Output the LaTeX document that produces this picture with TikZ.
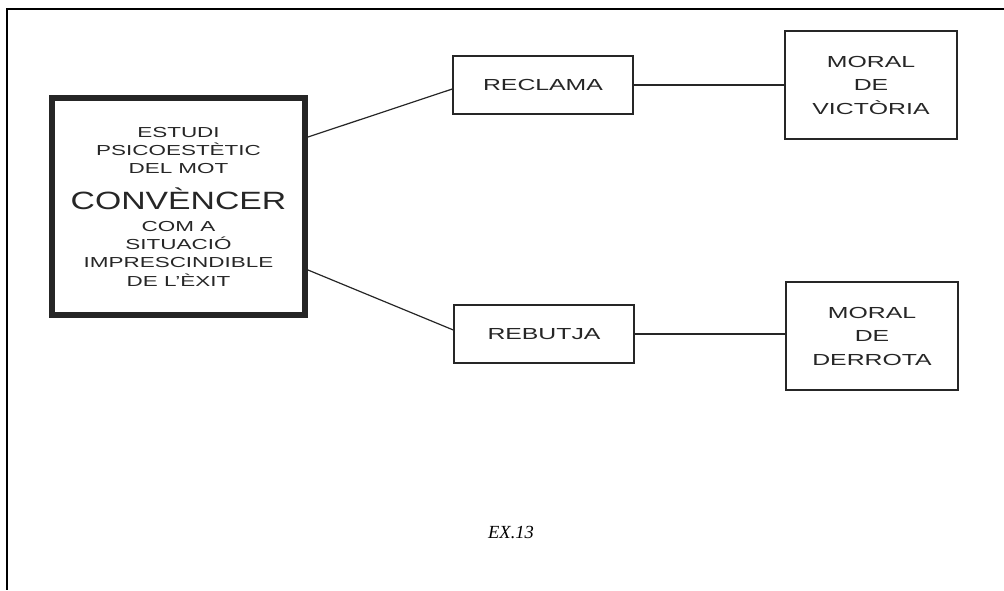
\documentclass[tikz,border=0pt]{standalone}
\usepackage{fontspec}
\setmainfont{Liberation Serif}
\newfontfamily\widefont[FakeStretch=1.55]{Liberation Sans}
\newfontfamily\bigwidefont[FakeStretch=1.35]{Liberation Sans}
\begin{document}
\begin{tikzpicture}[x=1pt,y=-1pt,
  box/.style={draw=black!85, line width=1.3pt, inner sep=0pt, align=center, text=black!85,
    font=\widefont\fontsize{16}{23.5}\selectfont},
  bigbox/.style={draw=black!85, line width=6pt, minimum width=253pt, minimum height=217pt,
    inner sep=0pt, align=center, text=black!85, font=\widefont\fontsize{14.5}{18.3}\selectfont},
  link/.style={draw=black!85, line width=1.2pt},
  frame/.style={draw=black, line width=2.5pt}]
\useasboundingbox (0,0) rectangle (1004,590);
\coordinate (ftr) at (1004,9);
\coordinate (ftl) at (7,9);
\coordinate (fbl) at (7,590);
\draw[frame] (ftr) -- (ftl) -- (fbl);

\node[bigbox] (main) at (178.5,206.5) {ESTUDI\\PSICOESTÈTIC\\DEL MOT\\[18pt]\smash{\bigwidefont\fontsize{25}{25}\selectfont CONVÈNCER}\\[3pt]COM A\\SITUACIÓ\\IMPRESCINDIBLE\\DE L’ÈXIT};

\node[box, minimum width=180pt, minimum height=58pt] (reclama) at (543,85) {RECLAMA};
\node[box, minimum width=180pt, minimum height=58pt] (rebutja) at (544,334) {REBUTJA};
\node[box, minimum width=172pt, minimum height=108pt] (victoria) at (871,85) {MORAL\\DE\\VICTÒRIA};
\node[box, minimum width=172pt, minimum height=108pt] (derrota) at (872,336) {MORAL\\DE\\DERROTA};

\draw[link] ([yshift=-42pt]main.north east) -- ([yshift=-4pt]reclama.west);
\draw[link] ([yshift=48pt]main.south east) -- ([yshift=4pt]rebutja.west);
\draw[link] (reclama.east) -- (victoria.west |- reclama.east);
\draw[link] (rebutja.east) -- (derrota.west |- rebutja.east);

\node[font=\itshape\fontsize{18.5}{20}\selectfont] (ex) at (511,532) {EX.13};
\end{tikzpicture}
\end{document}
